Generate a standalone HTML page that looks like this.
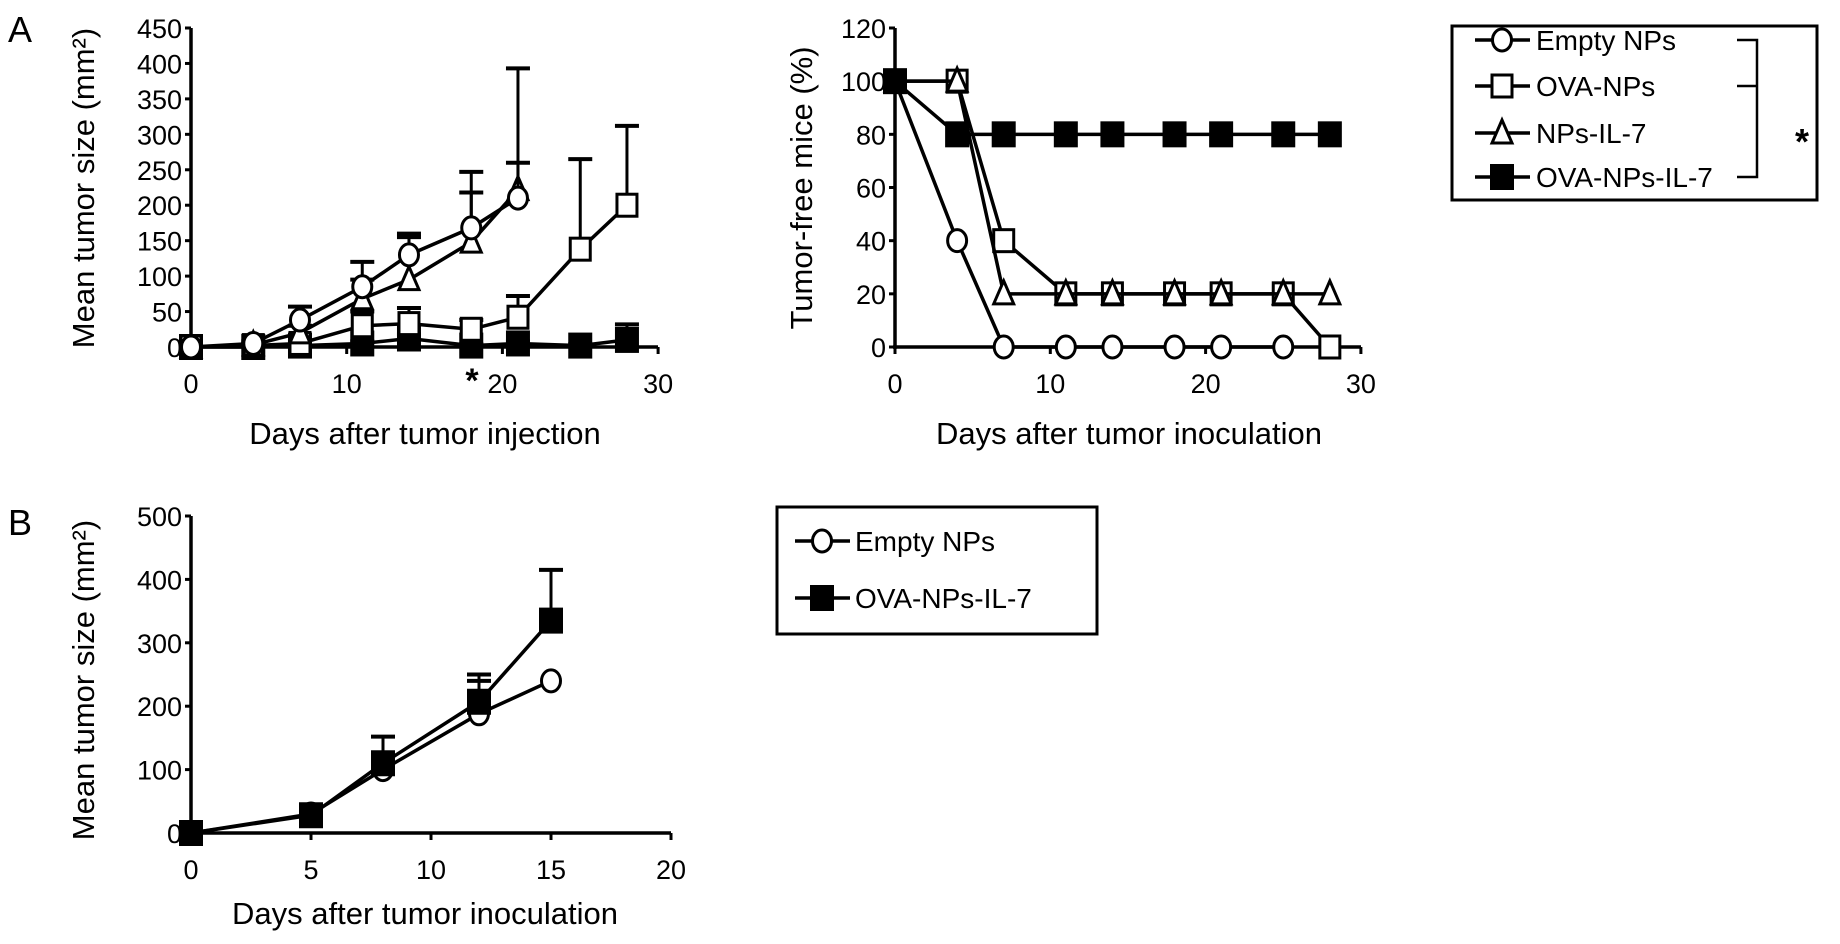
<!DOCTYPE html>
<html><head><meta charset="utf-8"><style>
html,body{margin:0;padding:0;background:#fff;}
svg{display:block;font-family:"Liberation Sans",Arial,sans-serif;}
</style></head><body>
<svg id="fig" width="1840" height="944" viewBox="0 0 1840 944" xmlns="http://www.w3.org/2000/svg"></svg>
<script>
// Panel A1 data: mean tumor size
const a1Days = [0,4,7,11,14,18,21,25,28];
const a1Ticks = [0,50,100,150,200,250,300,350,400,450];
const a1XTicks = [0,10,20,30];
const a1EmptyDays = [0,4,7,11,14,18,21];
const a1EmptyVals = [0,5,38,85,130,168,210];
const a1EmptyErr = [0,8,57,120,160,247,393];
const a1IL7Days = [0,4,7,11,14,18,21];
const a1IL7Vals = [0,3,20,68,95,148,222];
const a1IL7Err = [0,5,30,95,155,218,260];
const a1OvaDays = [0,4,7,11,14,18,21,25,28];
const a1OvaVals = [0,2,5,30,33,25,42,138,200];
const a1OvaErr = [0,4,8,50,55,38,72,265,312];
const a1OvaIL7Days = [0,4,7,11,14,18,21,25,28];
const a1OvaIL7Vals = [0,0,2,5,12,2,5,2,10];
const a1OvaIL7Err = [0,0,3,8,18,4,8,4,32];
// Panel A2 data: tumor-free mice %
const a2YTicks = [0,20,40,60,80,100,120];
const a2XTicks = [0,10,20,30];
const a2EmptyDays = [0,4,7,11,14,18,21,25];
const a2EmptyVals = [100,40,0,0,0,0,0,0];
const a2OvaDays = [0,4,7,11,14,18,21,25,28];
const a2OvaVals = [100,100,40,20,20,20,20,20,0];
const a2IL7Days = [0,4,7,11,14,18,21,25,28];
const a2IL7Vals = [100,100,20,20,20,20,20,20,20];
const a2OvaIL7Days = [0,4,7,11,14,18,21,25,28];
const a2OvaIL7Vals = [100,80,80,80,80,80,80,80,80];
// Panel B data
const bYTicks = [0,100,200,300,400,500];
const bXTicks = [0,5,10,15,20];
const bDays = [0,5,8,12,15];
const bEmptyVals = [0,30,100,188,240];
const bEmptyErr = [0,32,105,240,240];
const bOvaIL7Vals = [0,28,110,207,335];
const bOvaIL7Err = [0,30,152,250,415];

const NS="http://www.w3.org/2000/svg";
const svg=document.getElementById('fig');
function el(tag,attrs,parent,text){const e=document.createElementNS(NS,tag);for(const k in attrs)e.setAttribute(k,attrs[k]);if(text!==undefined)e.textContent=text;(parent||svg).appendChild(e);return e;}
const SW=3.5;
const TFS=27, AFS=31, LFS=28;

function marker(g,type,x,y){
  let m;
  if(type==='circle'){m=el('ellipse',{cx:x,cy:y,rx:9.5,ry:11,fill:'#fff',stroke:'#000','stroke-width':3},g);}
  else if(type==='square'){m=el('rect',{x:x-10,y:y-11,width:20,height:22,fill:'#fff',stroke:'#000','stroke-width':3},g);}
  else if(type==='fsquare'){m=el('rect',{x:x-11,y:y-12,width:22,height:24,fill:'#000',stroke:'#000','stroke-width':2},g);}
  else {m=el('polygon',{points:`${x},${y-13} ${x+10},${y+10} ${x-10},${y+10}`,fill:'#fff',stroke:'#000','stroke-width':3},g);}
  
  
}

function axes(name,x0,x1,y0,y1,xTicks,xs,yTicks,ys,fs){
  const g=el('g',{});
  el('line',{x1:x0,y1:y0+2,x2:x0,y2:y1,stroke:'#000','stroke-width':SW},g);
  el('line',{x1:x0-2,y1:y0,x2:x1,y2:y0,stroke:'#000','stroke-width':SW},g);
  yTicks.forEach(t=>{const y=ys(t);el('line',{x1:x0-6,y1:y,x2:x0,y2:y,stroke:'#000','stroke-width':3},g);
    const tx=el('text',{x:x0-9,y:y+10,'text-anchor':'end','font-size':fs},g,String(t));
    });
  xTicks.forEach(t=>{const x=xs(t);el('line',{x1:x,y1:y0,x2:x,y2:y0+7,stroke:'#000','stroke-width':3},g);
    const tx=el('text',{x:x,y:y0+46,'text-anchor':'middle','font-size':fs},g,String(t));
    });
  return g;
}

function series(name,days,vals,errs,type,xs,ys){
  const g=el('g',{});
  if(errs){days.forEach((d,i)=>{if(errs[i]>vals[i]){const x=xs(d);
    el('line',{x1:x,y1:ys(vals[i]),x2:x,y2:ys(errs[i]),stroke:'#000','stroke-width':3},g);
    el('line',{x1:x-12,y1:ys(errs[i]),x2:x+12,y2:ys(errs[i]),stroke:'#000','stroke-width':4},g);}});}
  el('polyline',{points:days.map((d,i)=>xs(d)+','+ys(vals[i])).join(' '),fill:'none',stroke:'#000','stroke-width':SW},g);
  days.forEach((d,i)=>marker(g,type,xs(d),ys(vals[i])));
}

function text(name,x,y,s,fs,extra){const a={x:x,y:y,'font-size':fs,};Object.assign(a,extra||{});return el('text',a,svg,s);}

// ---- Panel A1
{const xs=d=>191+d*15.57, ys=v=>347-v*(319/450);
 axes('a1',191,658,347,28,a1XTicks,xs,a1Ticks,ys,TFS);
 series('a1-ova-nps-il7',a1OvaIL7Days,a1OvaIL7Vals,a1OvaIL7Err,'fsquare',xs,ys);
 series('a1-ova-nps',a1OvaDays,a1OvaVals,a1OvaErr,'square',xs,ys);
 series('a1-nps-il7',a1IL7Days,a1IL7Vals,a1IL7Err,'triangle',xs,ys);
 series('a1-empty-nps',a1EmptyDays,a1EmptyVals,a1EmptyErr,'circle',xs,ys);
 text('panel-label-a',8,42,'A',36);
 text('a1-y-axis-title',0,0,'Mean  tumor size (mm²)',AFS,{transform:'translate(94,188) rotate(-90)','text-anchor':'middle'});
 text('a1-x-axis-title',425,444,'Days after tumor injection',AFS,{'text-anchor':'middle'});
 text('significance-asterisk',472,392,'*',34,{'text-anchor':'middle','font-weight':'bold'});
}
// ---- Panel A2
{const xs=d=>895+d*15.53, ys=v=>347-v*(319/120);
 axes('a2',895,1361,347,28,a2XTicks,xs,a2YTicks,ys,TFS);
 series('a2-empty-nps',a2EmptyDays,a2EmptyVals,null,'circle',xs,ys);
 series('a2-ova-nps',a2OvaDays,a2OvaVals,null,'square',xs,ys);
 series('a2-nps-il7',a2IL7Days,a2IL7Vals,null,'triangle',xs,ys);
 series('a2-ova-nps-il7',a2OvaIL7Days,a2OvaIL7Vals,null,'fsquare',xs,ys);
 text('a2-y-axis-title',0,0,'Tumor-free  mice  (%)',AFS,{transform:'translate(812,188) rotate(-90)','text-anchor':'middle'});
 text('a2-x-axis-title',1129,444,'Days after tumor inoculation',AFS,{'text-anchor':'middle'});
}
// ---- Legend A
{const g=el('g',{});
 el('rect',{x:1452,y:26,width:365,height:174,fill:'#fff',stroke:'#000','stroke-width':3},g);
 const names=['Empty NPs','OVA-NPs','NPs-IL-7','OVA-NPs-IL-7'], types=['circle','square','triangle','fsquare'], ys=[40,86,133,177];
 names.forEach((n,i)=>{const e=el('g',{},g);
  el('line',{x1:1475,y1:ys[i],x2:1530,y2:ys[i],stroke:'#000','stroke-width':SW},e);
  marker(e,types[i],1502,ys[i]);
  el('text',{x:1536,y:ys[i]+10,'font-size':LFS},e,n);});
 el('polyline',{points:'1737,40 1757,40 1757,177 1737,177',fill:'none',stroke:'#000','stroke-width':2.5},g);
 el('line',{x1:1737,y1:86,x2:1757,y2:86,stroke:'#000','stroke-width':2.5},g);
 el('text',{x:1795,y:154,'font-size':36,'font-weight':'bold'},g,'*');
}
// ---- Panel B
{const xs=d=>191+d*24, ys=v=>833-v*(317/500);
 axes('b',191,671,833,516,bXTicks,xs,bYTicks,ys,TFS);
 series('b-empty-nps',bDays,bEmptyVals,bEmptyErr,'circle',xs,ys);
 series('b-ova-nps-il7',bDays,bOvaIL7Vals,bOvaIL7Err,'fsquare',xs,ys);
 text('panel-label-b',8,535,'B',36);
 text('b-y-axis-title',0,0,'Mean tumor size (mm²)',AFS,{transform:'translate(94,680) rotate(-90)','text-anchor':'middle'});
 text('b-x-axis-title',425,924,'Days after tumor inoculation',AFS,{'text-anchor':'middle'});
}
// ---- Legend B
{const g=el('g',{});
 el('rect',{x:777,y:507,width:320,height:127,fill:'#fff',stroke:'#000','stroke-width':3},g);
 const names=['Empty NPs','OVA-NPs-IL-7'], types=['circle','fsquare'], ys=[541,598];
 names.forEach((n,i)=>{const e=el('g',{},g);
  el('line',{x1:795,y1:ys[i],x2:850,y2:ys[i],stroke:'#000','stroke-width':SW},e);
  marker(e,types[i],822,ys[i]);
  el('text',{x:855,y:ys[i]+10,'font-size':LFS},e,n);});
}
</script>
</body></html>
